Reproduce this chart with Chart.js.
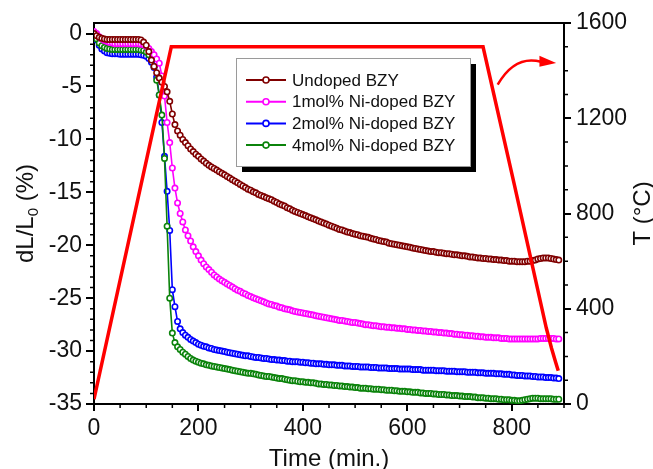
<!DOCTYPE html>
<html>
<head>
<meta charset="utf-8">
<script src="https://cdn.jsdelivr.net/npm/chart.js@4.4.1/dist/chart.umd.min.js"></script>
<style>
html, body { margin: 0; padding: 0; background: #fff; }
</style>
</head>
<body>
<canvas id="chart" width="653" height="469"></canvas>
<script>
// dilatometry data, sampled every 5 min
var time = [
    0, 5, 10, 15, 20, 25, 30, 35, 40, 45, 50, 55, 60, 65, 70, 75, 80, 85, 90, 95,
    100, 105, 110, 115, 120, 125, 130, 135, 140, 145, 150, 155, 160, 165, 170, 175, 180, 185, 190, 195,
    200, 205, 210, 215, 220, 225, 230, 235, 240, 245, 250, 255, 260, 265, 270, 275, 280, 285, 290, 295,
    300, 305, 310, 315, 320, 325, 330, 335, 340, 345, 350, 355, 360, 365, 370, 375, 380, 385, 390, 395,
    400, 405, 410, 415, 420, 425, 430, 435, 440, 445, 450, 455, 460, 465, 470, 475, 480, 485, 490, 495,
    500, 505, 510, 515, 520, 525, 530, 535, 540, 545, 550, 555, 560, 565, 570, 575, 580, 585, 590, 595,
    600, 605, 610, 615, 620, 625, 630, 635, 640, 645, 650, 655, 660, 665, 670, 675, 680, 685, 690, 695,
    700, 705, 710, 715, 720, 725, 730, 735, 740, 745, 750, 755, 760, 765, 770, 775, 780, 785, 790, 795,
    800, 805, 810, 815, 820, 825, 830, 835, 840, 845, 850, 855, 860, 865, 870, 875, 880, 885, 890
]

var undoped = [
    0, -0.2, -0.35, -0.45, -0.5, -0.55, -0.55, -0.55, -0.55, -0.55, -0.55, -0.55, -0.55, -0.55, -0.55, -0.55, -0.55, -0.55, -0.6, -0.8,
    -1.1, -1.7, -2.5, -3.1, -3.7, -4.2, -4.6, -5.0, -5.5, -6.4, -7.6, -8.6, -9.2, -9.6, -10.0, -10.3, -10.6, -10.9, -11.15, -11.4,
    -11.6, -11.85, -12.05, -12.25, -12.45, -12.6, -12.75, -12.9, -13.05, -13.2, -13.35, -13.5, -13.65, -13.8, -13.95, -14.1, -14.25, -14.4, -14.55, -14.7,
    -14.8, -14.95, -15.05, -15.2, -15.3, -15.4, -15.5, -15.6, -15.7, -15.85, -15.95, -16.1, -16.2, -16.3, -16.45, -16.55, -16.7, -16.8, -16.9, -17.0,
    -17.1, -17.2, -17.3, -17.4, -17.5, -17.6, -17.7, -17.8, -17.9, -18.0, -18.1, -18.2, -18.3, -18.4, -18.5, -18.55, -18.65, -18.75, -18.8, -18.9,
    -18.95, -19.0, -19.1, -19.15, -19.2, -19.25, -19.35, -19.4, -19.45, -19.55, -19.6, -19.65, -19.7, -19.8, -19.85, -19.9, -19.95, -20.0, -20.05, -20.1,
    -20.15, -20.2, -20.25, -20.3, -20.35, -20.4, -20.45, -20.5, -20.55, -20.6, -20.6, -20.65, -20.7, -20.7, -20.75, -20.8, -20.8, -20.85, -20.9, -20.9,
    -20.95, -21.0, -21.0, -21.05, -21.1, -21.1, -21.15, -21.2, -21.2, -21.25, -21.25, -21.3, -21.3, -21.35, -21.35, -21.4, -21.4, -21.45, -21.45, -21.5,
    -21.5, -21.5, -21.55, -21.55, -21.55, -21.55, -21.5, -21.5, -21.45, -21.4, -21.3, -21.25, -21.2, -21.2, -21.2, -21.25, -21.3, -21.35, -21.4
]

var ni1 = [
    0.2, 0.0, -0.3, -0.5, -0.65, -0.75, -0.85, -0.9, -0.95, -0.95, -0.95, -0.95, -0.95, -0.95, -0.95, -0.95, -0.95, -0.95, -1.0, -1.05,
    -1.2, -1.4, -1.7, -2.0, -2.4, -2.8, -4.0, -5.9, -8.4, -10.3, -12.7, -14.6, -16.0, -17.0, -17.8, -18.55, -19.1, -19.6, -20.15, -20.6,
    -21.0, -21.4, -21.75, -22.05, -22.3, -22.55, -22.8, -23.0, -23.2, -23.35, -23.5, -23.65, -23.8, -23.95, -24.1, -24.25, -24.35, -24.5, -24.6, -24.75,
    -24.85, -24.95, -25.05, -25.15, -25.25, -25.35, -25.45, -25.55, -25.6, -25.7, -25.75, -25.85, -25.9, -26.0, -26.05, -26.1, -26.2, -26.25, -26.3, -26.35,
    -26.4, -26.45, -26.5, -26.55, -26.6, -26.65, -26.7, -26.75, -26.8, -26.85, -26.9, -26.95, -27.0, -27.05, -27.1, -27.1, -27.15, -27.2, -27.25, -27.3,
    -27.3, -27.35, -27.4, -27.45, -27.5, -27.5, -27.55, -27.6, -27.6, -27.65, -27.7, -27.7, -27.75, -27.75, -27.8, -27.8, -27.85, -27.85, -27.9, -27.9,
    -27.95, -27.95, -28.0, -28.0, -28.05, -28.05, -28.1, -28.1, -28.15, -28.15, -28.2, -28.2, -28.25, -28.25, -28.3, -28.3, -28.35, -28.35, -28.4, -28.4,
    -28.45, -28.45, -28.5, -28.5, -28.55, -28.55, -28.6, -28.6, -28.65, -28.65, -28.7, -28.7, -28.7, -28.75, -28.75, -28.75, -28.8, -28.8, -28.8, -28.85,
    -28.85, -28.85, -28.85, -28.85, -28.85, -28.85, -28.85, -28.85, -28.85, -28.85, -28.85, -28.8, -28.8, -28.8, -28.8, -28.8, -28.8, -28.85, -28.85
]

var ni2 = [
    0.0, -0.6, -1.1, -1.45, -1.65, -1.8, -1.85, -1.9, -1.9, -1.9, -1.95, -1.95, -1.95, -1.95, -1.95, -1.95, -1.95, -1.95, -2.0, -2.05,
    -2.15, -2.35, -2.7, -3.2, -4.1, -5.8, -8.4, -11.6, -14.9, -18.6, -24.2, -25.8, -27.2, -27.9, -28.25, -28.5, -28.7, -28.9, -29.05, -29.2,
    -29.35, -29.45, -29.55, -29.6, -29.7, -29.75, -29.85, -29.9, -29.95, -30.0, -30.05, -30.1, -30.15, -30.2, -30.25, -30.3, -30.35, -30.4, -30.45, -30.45,
    -30.5, -30.55, -30.6, -30.6, -30.65, -30.7, -30.7, -30.75, -30.8, -30.8, -30.85, -30.85, -30.9, -30.9, -30.95, -30.95, -31.0, -31.0, -31.0, -31.05,
    -31.05, -31.1, -31.1, -31.15, -31.15, -31.2, -31.2, -31.2, -31.25, -31.25, -31.3, -31.3, -31.3, -31.35, -31.35, -31.35, -31.4, -31.4, -31.4, -31.45,
    -31.45, -31.45, -31.5, -31.5, -31.5, -31.5, -31.55, -31.55, -31.55, -31.6, -31.6, -31.6, -31.6, -31.65, -31.65, -31.65, -31.65, -31.7, -31.7, -31.7,
    -31.7, -31.7, -31.75, -31.75, -31.75, -31.75, -31.8, -31.8, -31.8, -31.8, -31.8, -31.85, -31.85, -31.85, -31.85, -31.9, -31.9, -31.9, -31.9, -31.95,
    -31.95, -31.95, -31.95, -32.0, -32.0, -32.0, -32.0, -32.05, -32.05, -32.05, -32.1, -32.1, -32.1, -32.1, -32.15, -32.15, -32.15, -32.2, -32.2, -32.2,
    -32.25, -32.25, -32.3, -32.3, -32.3, -32.35, -32.35, -32.35, -32.4, -32.4, -32.45, -32.45, -32.45, -32.5, -32.5, -32.5, -32.55, -32.55, -32.6
]

var ni4 = [
    0.0, -0.5, -0.9, -1.15, -1.3, -1.4, -1.45, -1.5, -1.5, -1.5, -1.5, -1.5, -1.5, -1.5, -1.5, -1.5, -1.5, -1.5, -1.55, -1.6,
    -1.75, -2.0, -2.4, -3.1, -4.4, -5.8, -7.7, -11.8, -18.2, -25.0, -28.3, -29.2, -29.6, -29.85, -30.1, -30.3, -30.5, -30.7, -30.85, -30.95,
    -31.05, -31.15, -31.2, -31.3, -31.35, -31.4, -31.45, -31.5, -31.55, -31.6, -31.65, -31.7, -31.75, -31.8, -31.85, -31.9, -31.95, -32.0, -32.05, -32.1,
    -32.1, -32.15, -32.2, -32.25, -32.3, -32.35, -32.4, -32.4, -32.45, -32.5, -32.55, -32.6, -32.6, -32.65, -32.7, -32.75, -32.8, -32.8, -32.85, -32.9,
    -32.9, -32.95, -32.95, -33.0, -33.0, -33.05, -33.1, -33.1, -33.15, -33.15, -33.2, -33.2, -33.25, -33.25, -33.3, -33.3, -33.35, -33.35, -33.4, -33.4,
    -33.45, -33.45, -33.5, -33.5, -33.5, -33.55, -33.55, -33.6, -33.6, -33.6, -33.65, -33.65, -33.7, -33.7, -33.7, -33.75, -33.75, -33.8, -33.8, -33.8,
    -33.85, -33.85, -33.9, -33.9, -33.9, -33.95, -33.95, -34.0, -34.0, -34.0, -34.05, -34.05, -34.1, -34.1, -34.1, -34.15, -34.15, -34.2, -34.2, -34.2,
    -34.25, -34.25, -34.3, -34.3, -34.3, -34.35, -34.35, -34.4, -34.4, -34.4, -34.45, -34.45, -34.5, -34.5, -34.5, -34.55, -34.55, -34.6, -34.6, -34.6,
    -34.65, -34.65, -34.7, -34.7, -34.65, -34.6, -34.55, -34.5, -34.45, -34.45, -34.45, -34.5, -34.5, -34.5, -34.5, -34.5, -34.55, -34.55, -34.55
]

// furnace temperature program
var tempTime = [0, 148, 745, 805, 866, 876, 884, 889]
var tempVal = [20, 1500, 1500, 920, 320, 235, 175, 140]

var names = ["Undoped BZY", "1mol% Ni-doped BZY", "2mol% Ni-doped BZY", "4mol% Ni-doped BZY"]
var colors = ["#800000", "#ff00ff", "#0000ff", "#0b830b"]
var series = [undoped, ni1, ni2, ni4]

var FONT = "'Liberation Sans', Arial, sans-serif"

function pts(xs, ys) {
    return xs.map(function (t, i) { return { x: t, y: ys[i] } })
}

var datasets = [{
    label: "T",
    data: pts(tempTime, tempVal),
    yAxisID: "y2",
    borderColor: "#ff0000",
    borderWidth: 3.5,
    pointRadius: 0,
    order: 0
}]

for (var s = 0; s < series.length; s++) {
    datasets.push({
        label: names[s],
        data: pts(time, series[s]),
        yAxisID: "y",
        borderColor: colors[s],
        borderWidth: 1.6,
        pointRadius: 2.7,
        pointBorderWidth: 1.6,
        pointBorderColor: colors[s],
        pointBackgroundColor: "#ffffff",
        order: s == 3 ? 2 : s + 1
    })
}

function minorTicks(ctx, scale, from, to, step, major, side, area) {
    for (var v = from; v <= to; v += step) {
        if (v % major == 0) continue
        var p = scale.getPixelForValue(v)
        if (side == "bottom") { ctx.moveTo(p, area.bottom); ctx.lineTo(p, area.bottom + 4) }
        if (side == "left") { ctx.moveTo(area.left - 4, p); ctx.lineTo(area.left, p) }
        if (side == "right") { ctx.moveTo(area.right, p); ctx.lineTo(area.right + 4, p) }
    }
}

var decor = {
    id: "decor",
    afterDraw: function (chart) {
        var ctx = chart.ctx
        var a = chart.chartArea
        var x = chart.scales.x, y = chart.scales.y, y2 = chart.scales.y2
        ctx.save()

        // frame top
        ctx.strokeStyle = "#000"
        ctx.lineWidth = 2
        ctx.beginPath()
        ctx.moveTo(a.left - 1, a.top)
        ctx.lineTo(a.right + 1, a.top)
        ctx.stroke()

        // minor ticks
        ctx.lineWidth = 1.5
        ctx.beginPath()
        minorTicks(ctx, x, 0, 900, 50, 200, "bottom", a)
        minorTicks(ctx, y, -35, 0, 1, 5, "left", a)
        minorTicks(ctx, y2, 0, 1600, 100, 400, "right", a)
        ctx.stroke()

        // arrow pointing to the T axis
        ctx.strokeStyle = "#ff0000"
        ctx.fillStyle = "#ff0000"
        ctx.lineWidth = 2.5
        ctx.beginPath()
        ctx.moveTo(x.getPixelForValue(773), y2.getPixelForValue(1341))
        ctx.quadraticCurveTo(x.getPixelForValue(806), y2.getPixelForValue(1467),
            x.getPixelForValue(856), y2.getPixelForValue(1437))
        ctx.stroke()
        var hx = x.getPixelForValue(853), hy = y2.getPixelForValue(1437)
        ctx.beginPath()
        ctx.moveTo(hx, hy - 6)
        ctx.lineTo(x.getPixelForValue(885), y2.getPixelForValue(1432))
        ctx.lineTo(hx, hy + 5)
        ctx.closePath()
        ctx.fill()

        // legend box with shadow
        var lx = a.left + 142, ly = a.top + 35, lw = 234, lh = 108
        ctx.fillStyle = "#000"
        ctx.fillRect(lx + 6, ly + 6, lw, lh)
        ctx.fillStyle = "#fff"
        ctx.fillRect(lx, ly, lw, lh)
        ctx.strokeStyle = "#9a9a9a"
        ctx.lineWidth = 1
        ctx.strokeRect(lx + 0.5, ly + 0.5, lw, lh)
        ctx.font = "17px " + FONT
        ctx.textBaseline = "middle"
        ctx.textAlign = "left"
        for (var i = 0; i < names.length; i++) {
            var ry = ly + 22 + i * 21.7
            ctx.strokeStyle = colors[i]
            ctx.lineWidth = 2
            ctx.beginPath()
            ctx.moveTo(lx + 10, ry)
            ctx.lineTo(lx + 50, ry)
            ctx.stroke()
            ctx.fillStyle = "#fff"
            ctx.lineWidth = 1.6
            ctx.beginPath()
            ctx.arc(lx + 30, ry, 3, 0, Math.PI * 2)
            ctx.fill()
            ctx.stroke()
            ctx.fillStyle = "#111"
            ctx.fillText(names[i], lx + 56, ry + 1)
        }

        // axis titles
        ctx.fillStyle = "#111"
        ctx.font = "24px " + FONT
        ctx.textAlign = "center"
        ctx.textBaseline = "alphabetic"
        ctx.fillText("Time (min.)", (a.left + a.right) / 2, chart.height - 3)

        var cy = (a.top + a.bottom) / 2
        ctx.save()
        ctx.translate(33, cy)
        ctx.rotate(-Math.PI / 2)
        var p1 = "dL/L", p2 = "0", p3 = " (%)"
        ctx.font = "24px " + FONT
        var w1 = ctx.measureText(p1).width, w3 = ctx.measureText(p3).width
        ctx.font = "15px " + FONT
        var w2 = ctx.measureText(p2).width
        var sx = -(w1 + w2 + w3) / 2
        ctx.textAlign = "left"
        ctx.font = "24px " + FONT
        ctx.fillText(p1, sx, 0)
        ctx.font = "15px " + FONT
        ctx.fillText(p2, sx + w1, 5)
        ctx.font = "24px " + FONT
        ctx.fillText(p3, sx + w1 + w2, 0)
        ctx.restore()

        ctx.save()
        ctx.translate(650, cy)
        ctx.rotate(-Math.PI / 2)
        ctx.textAlign = "center"
        ctx.fillText("T (\u00B0C)", 0, 0)
        ctx.restore()

        ctx.restore()
    }
}

var tickFont = { family: FONT, size: 23 }
function plain(v) { return String(v) }

new Chart(document.getElementById("chart"), {
    type: "line",
    data: { datasets: datasets },
    options: {
        responsive: false,
        animation: false,
        devicePixelRatio: 1,
        layout: { padding: { top: 23, left: 0, right: 0, bottom: 0 } },
        plugins: { legend: { display: false }, tooltip: { enabled: false } },
        scales: {
            x: {
                type: "linear",
                min: 0,
                max: 900,
                ticks: { stepSize: 200, includeBounds: false, font: tickFont, color: "#111", padding: 4, maxRotation: 0, callback: plain },
                grid: { drawOnChartArea: false, tickLength: 7, lineWidth: 2, color: "#000" },
                border: { display: true, color: "#000", width: 2 },
                afterFit: function (s) { s.height = 65 }
            },
            y: {
                position: "left",
                min: -35,
                max: 1,
                ticks: { stepSize: 5, includeBounds: false, font: tickFont, color: "#111", padding: 4, callback: plain },
                grid: { drawOnChartArea: false, tickLength: 8, lineWidth: 2, color: "#000" },
                border: { display: true, color: "#000", width: 2 },
                afterFit: function (s) { s.width = 94 }
            },
            y2: {
                position: "right",
                min: 0,
                max: 1600,
                ticks: { stepSize: 400, includeBounds: false, font: tickFont, color: "#111", padding: 5, callback: plain },
                grid: { drawOnChartArea: false, tickLength: 7, lineWidth: 2, color: "#000" },
                border: { display: true, color: "#000", width: 2 },
                afterFit: function (s) { s.width = 89 }
            }
        }
    },
    plugins: [decor]
})
</script>
</body>
</html>
